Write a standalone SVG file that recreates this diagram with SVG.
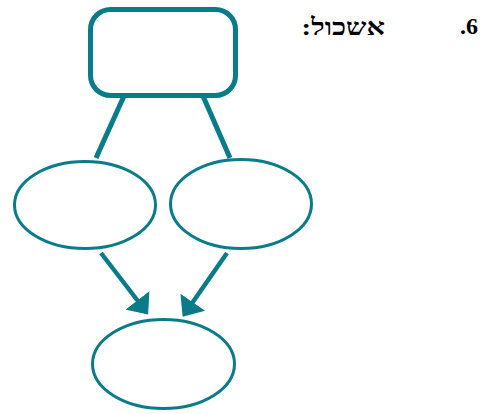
<svg xmlns="http://www.w3.org/2000/svg" width="483" height="414" viewBox="0 0 483 414">
<defs>
<style>
.n{fill:#fff;stroke:#0a7b88;}
.c{stroke:#0a7b88;fill:none;}
.t{font-family:"Liberation Serif","DejaVu Serif",serif;font-size:24px;font-weight:bold;fill:#000;}
</style>
<marker id="ah" markerUnits="userSpaceOnUse" markerWidth="18" markerHeight="30" refX="8" refY="14.5" orient="auto" viewBox="0 0 17 29">
<path d="M0,0 L17,14.5 L0,29 Z" fill="#0a7b88"/>
</marker>
</defs>
<g id="connectors">
<line class="c" x1="124" y1="96" x2="96" y2="158" stroke-width="5"/>
<line class="c" x1="203" y1="96" x2="230" y2="158" stroke-width="5"/>
<line class="c" x1="101" y1="253" x2="142.5" y2="307" stroke-width="4.5" marker-end="url(#ah)"/>
<line class="c" x1="227" y1="253" x2="188" y2="309" stroke-width="4.5" marker-end="url(#ah)"/>
</g>
<g id="top"><rect class="n" x="90.5" y="9.5" width="145" height="86" rx="20" ry="20" stroke-width="5"/></g>
<g id="left"><ellipse class="n" cx="85" cy="205" rx="70.5" ry="43.5" stroke-width="3"/></g>
<g id="right"><ellipse class="n" cx="241" cy="204" rx="70.5" ry="44.5" stroke-width="3"/></g>
<g id="bottom"><ellipse class="n" cx="163.5" cy="364" rx="71" ry="44.5" stroke-width="3"/></g>
<g id="title">
<text class="t" x="478" y="34" text-anchor="end">.6</text>
<text class="t" transform="scale(1.2,1)" x="320.8" y="35" direction="rtl" text-anchor="start" font-size="26">אשכול:</text>
</g>
</svg>
